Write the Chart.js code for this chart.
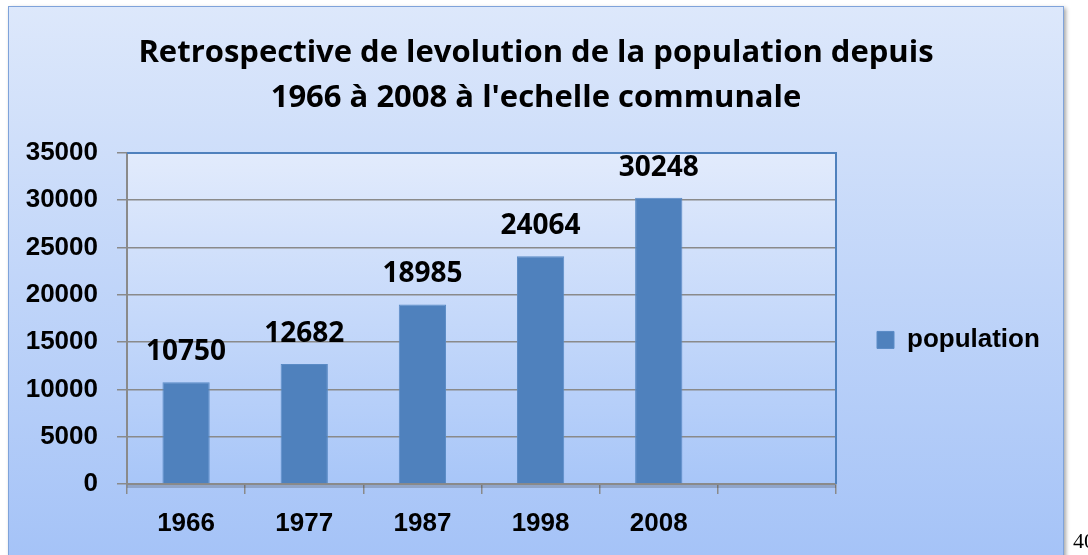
<!DOCTYPE html>
<html lang="fr">
<head>
<meta charset="UTF-8">
<title>Population 1966-2008</title>
<script src="https://cdn.jsdelivr.net/npm/chart.js"></script>
<style>
  html, body { margin: 0; padding: 0; background: #fff; overflow: hidden; }
  #wrap { position: relative; width: 1088px; height: 555px; }
  #pageNum { position: absolute; left: 1073px; top: 530px; font: 22px/1 'Liberation Serif', 'Times New Roman', serif; color: #000; }
</style>
</head>
<body>
<div id="wrap">
  <canvas id="chart" width="1088" height="555"></canvas>
  <div id="pageNum">40</div>
</div>
<script>
// data
const years = ['1966', '1977', '1987', '1998', '2008', ''];
const population = [10750, 12682, 18985, 24064, 30248, null];
const yTicks = [0, 5000, 10000, 15000, 20000, 25000, 30000, 35000];
const titleLines = ['Retrospective de levolution de la population depuis', "1966 à 2008 à l'echelle communale"];

const arialLike = "'Liberation Sans', Arial, sans-serif";
const calibriLike = "'Open Sans', 'Noto Sans', sans-serif";
const barBlue = '#4f81bd';
const axisGrey = '#8a8a8a';

// outer frame + plot area background
const backdrop = {
  id: 'backdrop',
  beforeDraw(chart) {
    const { ctx, chartArea: a } = chart;
    ctx.save();
    ctx.shadowColor = 'rgba(0,0,0,0.35)';
    ctx.shadowBlur = 4;
    ctx.shadowOffsetX = 2;
    ctx.shadowOffsetY = 2;
    const g = ctx.createLinearGradient(0, 6, 0, 555);
    g.addColorStop(0, '#dde8fb');
    g.addColorStop(1, '#a5c3f7');
    ctx.fillStyle = g;
    ctx.fillRect(8, 6, 1056, 570);
    ctx.shadowColor = 'transparent';
    ctx.strokeStyle = '#7fa3da';
    ctx.lineWidth = 1;
    ctx.strokeRect(8.5, 6.5, 1055, 570);

    const p = ctx.createLinearGradient(0, a.top, 0, a.bottom);
    p.addColorStop(0, '#e2ebfc');
    p.addColorStop(1, '#a8c6f8');
    ctx.fillStyle = p;
    ctx.fillRect(a.left, a.top, a.right - a.left, a.bottom - a.top);
    ctx.restore();
  },
  afterDatasetsDraw(chart) {
    const { ctx, chartArea: a } = chart;
    ctx.save();
    // blue border on top and right of plot area
    ctx.strokeStyle = barBlue;
    ctx.lineWidth = 2;
    ctx.beginPath();
    ctx.moveTo(a.left, a.top);
    ctx.lineTo(a.right, a.top);
    ctx.lineTo(a.right, a.bottom);
    ctx.stroke();
    // soft shadow under the x axis
    ctx.strokeStyle = 'rgba(60,60,60,0.25)';
    ctx.lineWidth = 3;
    ctx.beginPath();
    ctx.moveTo(a.left, a.bottom + 2.5);
    ctx.lineTo(a.right, a.bottom + 2.5);
    ctx.stroke();
    ctx.restore();
  }
};

// value labels above the bars
const valueLabels = {
  id: 'valueLabels',
  afterDatasetsDraw(chart) {
    const { ctx } = chart;
    const meta = chart.getDatasetMeta(0);
    ctx.save();
    ctx.font = 'bold 28px ' + calibriLike;
    ctx.fillStyle = '#000';
    ctx.textAlign = 'center';
    ctx.textBaseline = 'middle';
    meta.data.forEach((bar, i) => {
      const v = population[i];
      if (v == null) return;
      ctx.fillText(String(v), bar.x, bar.y - 30);
    });
    ctx.restore();
  }
};

new Chart(document.getElementById('chart'), {
  type: 'bar',
  data: {
    labels: years,
    datasets: [{
      label: 'population',
      data: population,
      backgroundColor: barBlue,
      borderColor: '#5a8bc6',
      borderWidth: 1,
      categoryPercentage: 1,
      barPercentage: 0.4
    }]
  },
  options: {
    responsive: false,
    animation: false,
    layout: { padding: { left: 8, top: 6, right: 24, bottom: 0 } },
    plugins: {
      title: {
        display: true,
        text: titleLines,
        color: '#000',
        font: { family: calibriLike, size: 31, weight: 'bold', lineHeight: 1.45 },
        padding: { top: 25, bottom: 32 }
      },
      legend: {
        position: 'right',
        fullSize: false,
        maxWidth: 228,
        title: { display: true, text: '', font: { size: 1, lineHeight: 1 }, padding: { top: 42, bottom: 0 } },
        labels: {
          color: '#000',
          boxWidth: 17,
          boxHeight: 17,
          padding: 41,
          font: { family: arialLike, size: 26, weight: 'bold' },
          // trailing spaces widen the legend box so it fills the frame up to its right edge
          generateLabels: chart => Chart.defaults.plugins.legend.labels.generateLabels(chart)
            .map(item => ({ ...item, text: item.text + '\u00a0\u00a0\u00a0' }))
        }
      },
      tooltip: { enabled: false }
    },
    scales: {
      x: {
        ticks: { color: '#000', font: { family: arialLike, size: 26, weight: 'bold' }, padding: 14 },
        grid: { drawOnChartArea: false, drawTicks: true, tickLength: 10, color: axisGrey, lineWidth: 1.5, offset: true },
        border: { color: axisGrey, width: 2 },
        afterFit(s) { s.height = 71; }
      },
      y: {
        min: 0,
        max: 35000,
        afterBuildTicks(s) { s.ticks = yTicks.map(v => ({ value: v })); },
        ticks: { color: '#000', font: { family: arialLike, size: 26, weight: 'bold' }, padding: 19, callback: v => String(v) },
        grid: { color: axisGrey, lineWidth: 1.5, tickLength: 10, drawTicks: true },
        border: { color: axisGrey, width: 2 },
        afterFit(s) { s.width = 119; }
      }
    }
  },
  plugins: [backdrop, valueLabels]
});
</script>
</body>
</html>
